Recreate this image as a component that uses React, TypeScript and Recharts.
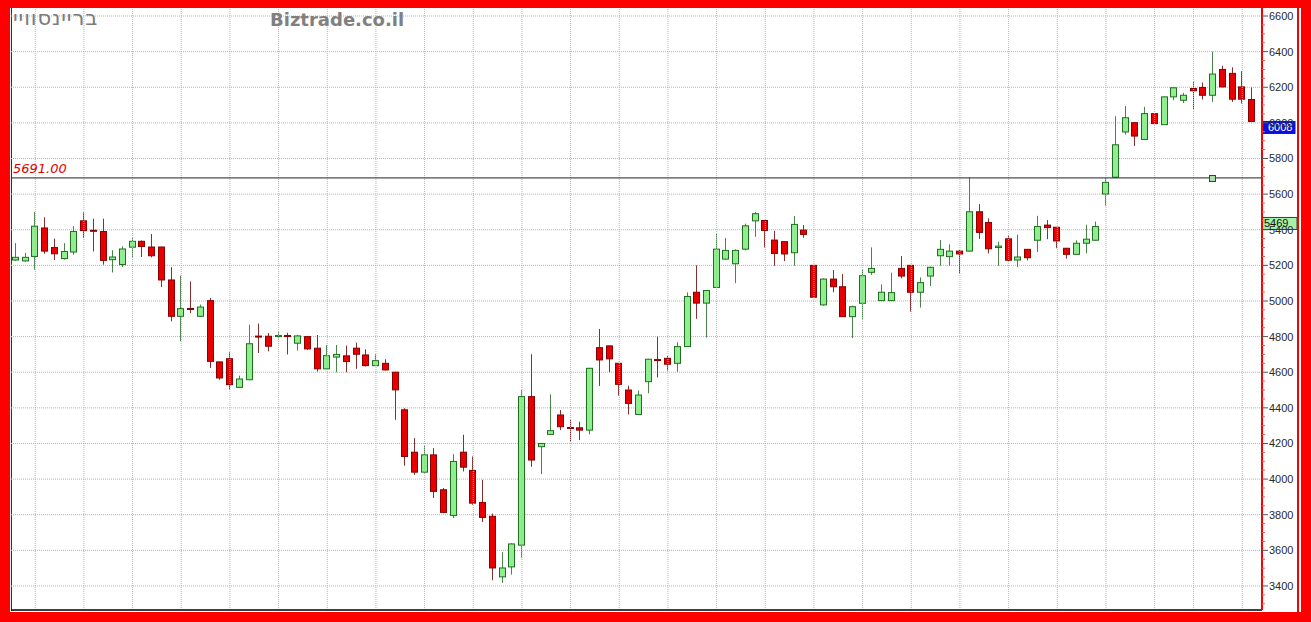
import React from "react";
import {
  ComposedChart,
  Bar,
  XAxis,
  YAxis,
  CartesianGrid,
  ReferenceLine,
  ReferenceDot,
} from "recharts";

// ---- data ----
const opens = [
  5230, 5225, 5250, 5410, 5300, 5238, 5275, 5450, 5397, 5390,
  5232, 5205, 5302, 5335, 5303, 5303, 5118, 4914, 4958, 4914,
  5002, 4658, 4676, 4515, 4558, 4803, 4802, 4800, 4806, 4763,
  4800, 4735, 4619, 4685, 4692, 4735, 4697, 4637, 4650, 4600,
  4389, 4151, 4039, 4136, 3940, 3796, 4151, 4049, 3869, 3791,
  3451, 3507, 3629, 4463, 4182, 4251, 4360, 4290, 4288, 4275,
  4738, 4748, 4650, 4500, 4363, 4547, 4671, 4678, 4650, 4744,
  5049, 4988, 5076, 5235, 5209, 5291, 5450, 5452, 5342, 5333,
  5271, 5398, 5200, 4978, 5123, 5080, 4912, 4987, 5161, 5002,
  5002, 5183, 5200, 5049, 5140, 5254, 5249, 5280, 5280, 5501,
  5441, 5300, 5349, 5230, 5290, 5341, 5426, 5414, 5296, 5262,
  5324, 5341, 5601, 5695, 5949, 6001, 5907, 6052, 5990, 6146,
  6127, 6193, 6199, 6155, 6300, 6278, 6202, 6131,
];
const highs = [
  5325, 5270, 5500, 5470, 5350, 5325, 5420, 5497, 5462, 5462,
  5285, 5307, 5353, 5340, 5376, 5305, 5190, 5142, 5110, 4980,
  5017, 4660, 4712, 4581, 4867, 4873, 4820, 4828, 4822, 4810,
  4804, 4809, 4753, 4753, 4750, 4766, 4729, 4701, 4673, 4602,
  4398, 4230, 4187, 4174, 3950, 4140, 4249, 4127, 3996, 3806,
  3589, 3640, 4500, 4701, 4202, 4476, 4388, 4332, 4322, 4625,
  4843, 4750, 4652, 4525, 4497, 4675, 4800, 4691, 4768, 5048,
  5200, 5061, 5378, 5353, 5290, 5434, 5500, 5455, 5394, 5335,
  5477, 5426, 5202, 5127, 5174, 5151, 4974, 5174, 5301, 5093,
  5159, 5252, 5202, 5133, 5193, 5342, 5318, 5286, 5693, 5544,
  5464, 5333, 5370, 5372, 5292, 5478, 5454, 5414, 5298, 5341,
  5428, 5446, 5689, 6037, 6095, 6003, 6090, 6055, 6148, 6200,
  6169, 6231, 6227, 6400, 6321, 6312, 6291, 6199,
];
const lows = [
  5225, 5220, 5175, 5265, 5230, 5232, 5260, 5353, 5278, 5204,
  5160, 5190, 5247, 5247, 5245, 5078, 4886, 4774, 4932, 4910,
  4624, 4558, 4502, 4512, 4555, 4708, 4717, 4790, 4700, 4721,
  4725, 4604, 4617, 4600, 4600, 4619, 4632, 4635, 4609, 4333,
  4075, 4024, 4036, 3894, 3809, 3781, 4043, 3856, 3759, 3432,
  3417, 3464, 3559, 4069, 4028, 4249, 4275, 4210, 4219, 4251,
  4523, 4600, 4468, 4363, 4360, 4482, 4571, 4609, 4603, 4742,
  4900, 4795, 5074, 5233, 5100, 5284, 5360, 5300, 5198, 5224,
  5198, 5355, 5020, 4974, 5049, 4910, 4791, 4899, 5146, 5000,
  5000, 5127, 4940, 4963, 5084, 5198, 5198, 5155, 5278, 5348,
  5267, 5198, 5224, 5190, 5228, 5275, 5347, 5296, 5238, 5260,
  5268, 5339, 5535, 5693, 5934, 5870, 5905, 5994, 5988, 6127,
  6112, 6076, 6131, 6118, 6200, 6118, 6108, 6005,
];
const closes = [
  5245, 5245, 5420, 5280, 5265, 5278, 5390, 5395, 5392, 5228,
  5247, 5292, 5335, 5306, 5254, 5118, 4914, 4957, 4955, 4966,
  4661, 4568, 4530, 4562, 4760, 4800, 4746, 4806, 4802, 4804,
  4731, 4619, 4693, 4700, 4660, 4701, 4637, 4665, 4613, 4501,
  4127, 4039, 4136, 3931, 3813, 4099, 4067, 3865, 3785, 3501,
  3501, 3636, 4463, 4107, 4200, 4272, 4294, 4286, 4275, 4622,
  4669, 4675, 4532, 4425, 4472, 4673, 4667, 4645, 4744, 5025,
  4988, 5059, 5291, 5284, 5284, 5422, 5490, 5396, 5267, 5264,
  5430, 5374, 5021, 5123, 5080, 4912, 4968, 5142, 5183, 5049,
  5047, 5140, 5049, 5103, 5189, 5290, 5280, 5264, 5501, 5385,
  5293, 5308, 5229, 5247, 5243, 5418, 5412, 5337, 5262, 5324,
  5347, 5418, 5666, 5877, 6029, 5926, 6052, 5996, 6146, 6197,
  6155, 6180, 6155, 6274, 6202, 6133, 6133, 6008,
];

// trading-day indices where the vertical (weekly) grid lines fall
const gridDays = [
  2, 7, 12, 17, 22, 27, 32, 37, 42, 47, 52, 57, 62, 67, 72, 77, 82, 87,
  92, 97, 102, 107, 112, 117, 121, 126,
];
// labelled price ticks on the right axis
const priceLabels = [
  3400, 3600, 3800, 4000, 4200, 4400, 4600, 4800, 5000, 5200, 5400, 5600,
  5800, 6000, 6200, 6400, 6600,
];
const minorStep = 50;
const priceTicks = Array.from(
  { length: (6600 - 3300) / minorStep + 1 },
  (_, i) => 3300 + i * minorStep
);

const levelLine = 5691;
const levelMarkerDay = 123;
const lastPrice = 6008;
const greenMarkPrice = 5469;
const stockName = "בריינסוויי";
const siteName = "Biztrade.co.il";

const rows = opens.map((o, i) => ({
  d: i,
  o,
  h: highs[i],
  l: lows[i],
  c: closes[i],
  range: [lows[i], highs[i]],
}));

// ---- styles ----
const UP_FILL = "#90ee90";
const UP_STROKE = "#1f6f1f";
const UP_WICK = "#4a844a";
const DOWN_FILL = "#e80000";
const DOWN_STROKE = "#8a0000";
const DOWN_WICK = "#843030";
const GRID = "#b4b4b4";

const Candle = (props: any) => {
  const { x, y, width, height, payload } = props;
  if (!payload) return null;
  const { o, h, l, c } = payload;
  const top = Math.min(y, y + height);
  const span = Math.abs(height);
  const k = h - l > 0 ? span / (h - l) : 0;
  const py = (v: number) => top + (h - v) * k;
  const up = c >= o;
  const bx = Math.round(x) + 0.5;
  const bw = Math.round(width) - 1;
  const cx = bx + bw / 2;
  const bodyTop = py(Math.max(o, c));
  const bodyBot = py(Math.min(o, c));
  const bh = Math.max(bodyBot - bodyTop, 1);
  return (
    <g>
      <line
        x1={cx}
        x2={cx}
        y1={py(h)}
        y2={py(l)}
        stroke={up ? UP_WICK : DOWN_WICK}
        strokeWidth={1}
      />
      <rect
        x={bx}
        y={bodyTop}
        width={bw}
        height={bh}
        fill={up ? UP_FILL : DOWN_FILL}
        stroke={up ? UP_STROKE : DOWN_STROKE}
        strokeWidth={1}
      />
    </g>
  );
};

const TICK_SIZE = 6;
const TICK_MARGIN = 1;

const PriceTick = (props: any) => {
  const { x, y, payload } = props;
  const v = payload?.value;
  const isMajor = priceLabels.includes(v);
  const axisX = x - TICK_SIZE - TICK_MARGIN;
  return (
    <g>
      <line
        x1={axisX}
        x2={axisX + (isMajor ? TICK_SIZE : 3)}
        y1={y}
        y2={y}
        stroke={isMajor ? "#555" : "#e06060"}
        strokeWidth={1}
      />
      {isMajor ? (
        <text
          x={x}
          y={y}
          dy="0.36em"
          textAnchor="start"
          fill="#2a2a2a"
          fontSize={11}
          fontFamily="'Liberation Sans', Arial, sans-serif"
        >
          {v}
        </text>
      ) : null}
    </g>
  );
};

const LevelLabel = (props: any) => {
  const { viewBox } = props;
  if (!viewBox) return null;
  return (
    <text
      x={viewBox.x + 2}
      y={viewBox.y - 5}
      fill="#e00000"
      fontSize={13}
      fontStyle="italic"
      fontFamily="'DejaVu Sans', Verdana, sans-serif"
    >
      {levelLine.toFixed(2)}
    </text>
  );
};

const makePriceBox =
  (value: number, fill: string, stroke: string, color: string, w: number, tx: number) =>
  (props: any) => {
    const { viewBox } = props;
    if (!viewBox) return null;
    const rx = viewBox.x + viewBox.width;
    const ry = viewBox.y;
    return (
      <g>
        <rect x={rx} y={ry} width={w} height={12} fill={fill} stroke={stroke} strokeWidth={1} />
        <text
          x={rx + tx}
          y={ry + 6}
          dy="0.36em"
          fill={color}
          fontSize={11}
          fontFamily="'Liberation Sans', Arial, sans-serif"
        >
          {value}
        </text>
      </g>
    );
  };

const LastBox = makePriceBox(lastPrice, "#0a10e0", "#0a10e0", "#ffffff", 33, 6);
const GreenBox = makePriceBox(greenMarkPrice, "#a8f0a8", "#1f4f1f", "#111111", 35, 2);

const MarkerSquare = (props: any) => {
  const { cx, cy } = props;
  if (cx == null || cy == null) return null;
  return (
    <rect
      x={Math.round(cx) - 3.5}
      y={Math.round(cy) - 2.5}
      width={6}
      height={6}
      fill="#a8e0a8"
      stroke="#2a4a2a"
      strokeWidth={1}
    />
  );
};

export default function App() {
  return (
    <div
      style={{
        position: "absolute",
        left: 0,
        top: 0,
        width: 1311,
        height: 622,
        background: "#ff0000",
        overflow: "hidden",
      }}
    >
      {/* white panel */}
      <div
        style={{
          position: "absolute",
          left: 10,
          top: 8,
          width: 1291,
          height: 604,
          background: "#ffffff",
        }}
      />
      {/* red separator right of price axis */}
      <div
        style={{
          position: "absolute",
          left: 1297,
          top: 8,
          width: 2,
          height: 604,
          background: "#ff0000",
        }}
      />
      {/* left dark border */}
      <div
        style={{
          position: "absolute",
          left: 11,
          top: 8,
          width: 1,
          height: 603,
          background: "#333333",
        }}
      />
      <div style={{ position: "absolute", left: 10, top: 8 }}>
        <ComposedChart
          width={1287}
          height={604}
          data={rows}
          margin={{ top: 0, right: 0, bottom: 0, left: 1 }}
        >
          <CartesianGrid
            stroke={GRID}
            strokeDasharray="1 1"
            horizontalValues={priceLabels}
            vertical={false}
          />
          <XAxis
            dataKey="d"
            type="number"
            domain={[-0.49, 128.03]}
            allowDataOverflow
            ticks={gridDays}
            tick={false}
            tickLine={false}
            axisLine={{ stroke: "#000000", strokeWidth: 1.5 }}
            height={2}
          />
          <YAxis
            orientation="right"
            type="number"
            domain={[3265, 6645]}
            allowDataOverflow
            ticks={priceTicks}
            interval={0}
            width={35}
            tickLine={false}
            tickSize={TICK_SIZE}
            tickMargin={TICK_MARGIN}
            tick={<PriceTick />}
            axisLine={{ stroke: "#ff0000", strokeWidth: 2 }}
          />
          {gridDays.map((d) => (
            <ReferenceLine
              key={`g${d}`}
              x={d}
              stroke={GRID}
              strokeDasharray="1 1"
              strokeWidth={1}
            />
          ))}
          <ReferenceLine
            y={levelLine}
            stroke="#222222"
            strokeWidth={1}
            label={<LevelLabel />}
          />
          <Bar
            dataKey="range"
            barSize={7}
            shape={<Candle />}
            isAnimationActive={false}
          />
          <ReferenceDot
            x={levelMarkerDay}
            y={levelLine}
            r={3}
            shape={<MarkerSquare />}
          />
          <ReferenceLine y={lastPrice} stroke="none" label={<LastBox />} />
          <ReferenceLine y={greenMarkPrice} stroke="none" label={<GreenBox />} />
        </ComposedChart>
      </div>
      {/* header texts */}
      <div
        style={{
          position: "absolute",
          left: 13,
          top: 8,
          fontFamily: "'DejaVu Sans', sans-serif",
          fontSize: 21,
          lineHeight: "21px",
          letterSpacing: "0.9px",
          color: "#7a7a7a",
          whiteSpace: "nowrap",
        }}
      >
        <bdo dir="rtl">{stockName}</bdo>
      </div>
      <div
        style={{
          position: "absolute",
          left: 270,
          top: 11,
          fontFamily: "'DejaVu Sans', Verdana, sans-serif",
          fontSize: 18,
          fontWeight: "bold",
          lineHeight: "18px",
          color: "#808080",
          whiteSpace: "nowrap",
        }}
      >
        {siteName}
      </div>
    </div>
  );
}
